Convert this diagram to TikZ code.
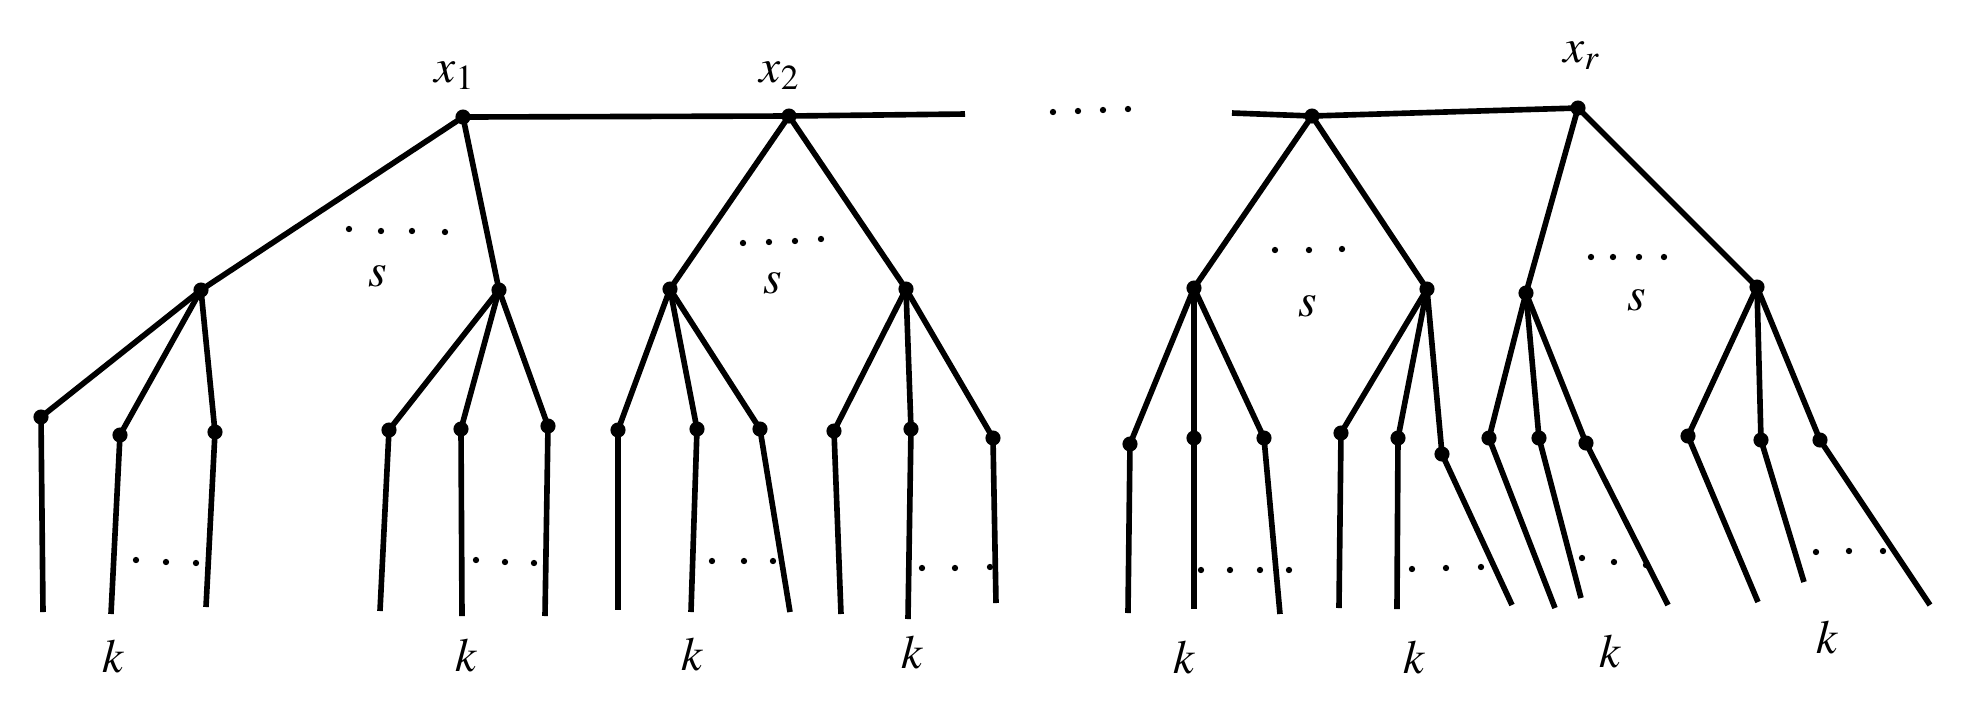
\documentclass[tikz,border=0pt]{standalone}
\usepackage{mathptmx}
\begin{document}
\begin{tikzpicture}[x=0.01cm, y=-0.01cm, line width=1.6pt,
	vertex/.style={circle, fill, inner sep=0pt, minimum size=4.3pt},
	tag/.style={anchor=base, inner sep=0pt, font=\fontsize{13.5}{15}\selectfont}]

	\useasboundingbox (0,0) rectangle (1974,717);

	%% The top row
	\begin{scope}[every node/.style={vertex}]
		\node at ( 463,117) (1-1) {};
		\node at ( 789,116) (1-2) {};
		\node at (1312,116) (1-3) {};
		\node at (1578,108) (1-4) {};
	\end{scope}
	\coordinate (1-a) at ( 965,114);
	\coordinate (1-b) at (1232,113);

	%% The second row
	\begin{scope}[every node/.style={vertex}]
		\node at ( 201,290) (2-1) {};
		\node at ( 499,290) (2-2) {};
		\node at ( 670,289) (2-3) {};
		\node at ( 906,289) (2-4) {};
		\node at (1194,288) (2-5) {};
		\node at (1427,289) (2-6) {};
		\node at (1526,293) (2-7) {};
		\node at (1757,287) (2-8) {};
	\end{scope}

	%% The third row
	\begin{scope}[every node/.style={vertex}]
		\node at (  41,417) (3-1) {};
		\node at ( 120,435) (3-2) {};
		\node at ( 215,432) (3-3) {};
		\node at ( 389,430) (3-4) {};
		\node at ( 461,429) (3-5) {};
		\node at ( 548,426) (3-6) {};
		\node at ( 618,430) (3-7) {};
		\node at ( 697,429) (3-8) {};
		\node at ( 760,429) (3-9) {};
		\node at ( 834,431) (3-10) {};
		\node at ( 911,429) (3-11) {};
		\node at ( 993,438) (3-12) {};
		\node at (1130,444) (3-13) {};
		\node at (1194,438) (3-14) {};
		\node at (1264,438) (3-15) {};
		\node at (1341,433) (3-16) {};
		\node at (1398,438) (3-17) {};
		\node at (1442,454) (3-18) {};
		\node at (1489,438) (3-19) {};
		\node at (1539,438) (3-20) {};
		\node at (1586,443) (3-21) {};
		\node at (1688,436) (3-22) {};
		\node at (1761,440) (3-23) {};
		\node at (1820,440) (3-24) {};
	\end{scope}

	%% The free ends of the leaves
	\foreach \n/\x/\y in {1/43/612, 2/111/614, 3/206/607, 4/380/611, 5/462/616, 6/545/616,
		7/618/610, 8/691/612, 9/790/612, 10/841/614, 11/908/619, 12/996/603,
		13/1128/613, 14/1194/609, 15/1280/614, 16/1339/608, 17/1397/609, 18/1512/605,
		19/1555/608, 20/1581/598, 21/1668/605, 22/1758/602, 23/1804/582, 24/1930/605}
		\coordinate (4-\n) at (\x,\y);

	%% The edges
	\draw (1-1.center) -- (1-2.center) -- (1-a);
	\draw (1-b) -- (1-3.center) -- (1-4.center);
	\foreach \p/\c in {1/1, 1/2, 2/3, 2/4, 3/5, 3/6, 4/7, 4/8}
		\draw (1-\p.center) -- (2-\c.center);
	\foreach \p in {1,...,8}
		\foreach \c in {1,2,3} {
			\pgfmathtruncatemacro{\n}{3*(\p-1)+\c}
			\draw (2-\p.center) -- (3-\n.center);
		}
	\foreach \n in {1,...,24}
		\draw (3-\n.center) -- (4-\n);

	%% The dots
	\foreach \x/\y in {349/229, 381/231, 412/231, 445/232,
		743/243, 769/242, 795/241, 821/239,
		1275/250, 1309/250, 1342/249,
		1591/257, 1613/257, 1639/257, 1664/257,
		1053/112, 1078/111, 1103/110, 1128/109,
		136/560, 166/562, 196/563,
		476/560, 505/562, 534/563,
		712/561, 744/561, 773/561,
		922/568, 955/568, 990/567,
		1201/570, 1230/570, 1260/570, 1289/570,
		1412/569, 1446/568, 1481/567,
		1582/558, 1614/562, 1646/565,
		1816/552, 1849/551, 1883/551}
		\fill (\x,\y) circle (0.9pt);

	%% The labels
	\node[tag] at ( 455,82) (x-1) {$x_1$};
	\node[tag] at ( 780,82) (x-2) {$x_2$};
	\node[tag] at (1582,62) (x-r) {$x_r$};
	\foreach \n/\x/\y in {1/378/286, 2/773/293, 3/1308/316, 4/1637/310}
		\node[tag] at (\x,\y) (s-\n) {$s$};
	\foreach \n/\x/\y in {1/113/672, 2/466/671, 3/692/670, 4/912/668,
		5/1184/673, 6/1414/673, 7/1610/667, 8/1827/653}
		\node[tag] at (\x,\y) (k-\n) {$k$};

\end{tikzpicture}
\end{document}
